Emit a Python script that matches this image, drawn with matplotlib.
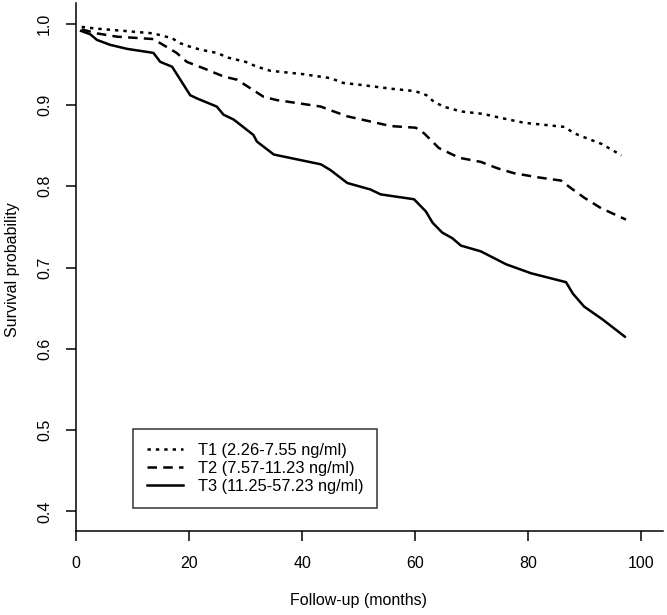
"""Kaplan-Meier style survival curves by tertile."""

import matplotlib
matplotlib.use("Agg")
import matplotlib.pyplot as plt

plt.rcParams["font.family"] = ["Liberation Sans", "DejaVu Sans"]

# values
t1_months = [1, 3.4, 13.7, 17, 18.4, 20, 22, 24.9, 27, 30, 32, 34.4, 40, 45, 47.3,
             50, 55.7, 60, 62, 63.3, 65, 68.1, 72, 75.2, 79.3, 86.4, 88.2, 90, 93, 96.5]
t1_surv = [0.996, 0.994, 0.988, 0.982, 0.976, 0.972, 0.968, 0.964, 0.958, 0.953, 0.947,
           0.942, 0.938, 0.933, 0.927, 0.925, 0.920, 0.917, 0.912, 0.904, 0.898, 0.892,
           0.889, 0.884, 0.878, 0.873, 0.865, 0.860, 0.852, 0.838]

t2_months = [1, 3.7, 7.2, 13.7, 14.9, 17.8, 19.6, 22.6, 26.1, 28.5, 33.2, 35.5, 43.3,
             45.6, 48, 55.7, 60.1, 61.6, 64.2, 67.8, 71.6, 74.6, 77.5, 81.7, 85.8, 87.9,
             89.9, 92.9, 97.3]
t2_surv = [0.993, 0.988, 0.984, 0.981, 0.976, 0.964, 0.953, 0.945, 0.935, 0.931, 0.910,
           0.906, 0.898, 0.892, 0.886, 0.874, 0.872, 0.865, 0.847, 0.835, 0.830, 0.822,
           0.816, 0.811, 0.807, 0.796, 0.786, 0.773, 0.759]

t3_months = [0.9, 2.5, 3.7, 6, 9, 13.7, 14.9, 17, 20.2, 21.4, 24.9, 26.1, 27.9, 31.4,
             32, 35, 43.3, 45, 48, 52.1, 53.9, 59.8, 61.9, 63.1, 64.8, 66.6, 68.1, 71.6,
             76.1, 80.5, 86.7, 87.9, 89.9, 93.2, 97.1]
t3_surv = [0.991, 0.987, 0.980, 0.974, 0.969, 0.964, 0.953, 0.947, 0.912, 0.908, 0.898,
           0.888, 0.882, 0.863, 0.855, 0.839, 0.827, 0.820, 0.804, 0.796, 0.790, 0.784,
           0.769, 0.755, 0.743, 0.736, 0.727, 0.720, 0.704, 0.693, 0.682, 0.668, 0.652,
           0.636, 0.615]

labels = ["T1 (2.26-7.55 ng/ml)", "T2 (7.57-11.23 ng/ml)", "T3 (11.25-57.23 ng/ml)"]
x_ticks = [0, 20, 40, 60, 80, 100]
y_ticks = [0.4, 0.5, 0.6, 0.7, 0.8, 0.9, 1.0]

W, H = 667, 615
fig = plt.figure(figsize=(W / 100, H / 100), dpi=100)
ax = fig.add_axes([76 / W, 84 / H, (662.7 - 76) / W, (611.7 - 84) / H])

lw = 1.8
ax.plot(t1_months, t1_surv, color="black", lw=lw, dashes=(1.35, 2.0), label=labels[0])
ax.plot(t2_months, t2_surv, color="black", lw=lw, dashes=(3.8, 2.5), label=labels[1])
ax.plot(t3_months, t3_surv, color="black", lw=lw, label=labels[2])

ax.set_xlim(0, 103.8)
ax.set_ylim(0.376, 1.025)
ax.spines["top"].set_visible(False)
ax.spines["right"].set_visible(False)
for s in ("left", "bottom"):
    ax.spines[s].set_linewidth(1.1)

ax.set_xticks(x_ticks)
ax.set_yticks(y_ticks)
ax.set_xticklabels([str(v) for v in x_ticks])
ax.set_yticklabels([f"{v:.1f}" for v in y_ticks], rotation=90, va="center")
ax.tick_params(axis="both", direction="out", length=7.2, width=1.1, labelsize=11.5)
ax.tick_params(axis="x", pad=11)
ax.tick_params(axis="y", pad=10)

ax.set_xlabel("Follow-up (months)", fontsize=11.5, va="center")
ax.xaxis.set_label_coords(0.481, -0.131)
ax.set_ylabel("Survival probability", fontsize=11.5, va="center")
ax.yaxis.set_label_coords(-0.109, 0.495)

leg = ax.legend(loc="lower left", bbox_to_anchor=(0.097, 0.0436), borderaxespad=0,
                fontsize=11.8, frameon=True, fancybox=False, handlelength=2.2,
                handletextpad=0.9, labelspacing=0.2, borderpad=0.85)
leg.get_frame().set_edgecolor("black")
leg.get_frame().set_linewidth(1.1)

fig.savefig("out.png", dpi=100)
